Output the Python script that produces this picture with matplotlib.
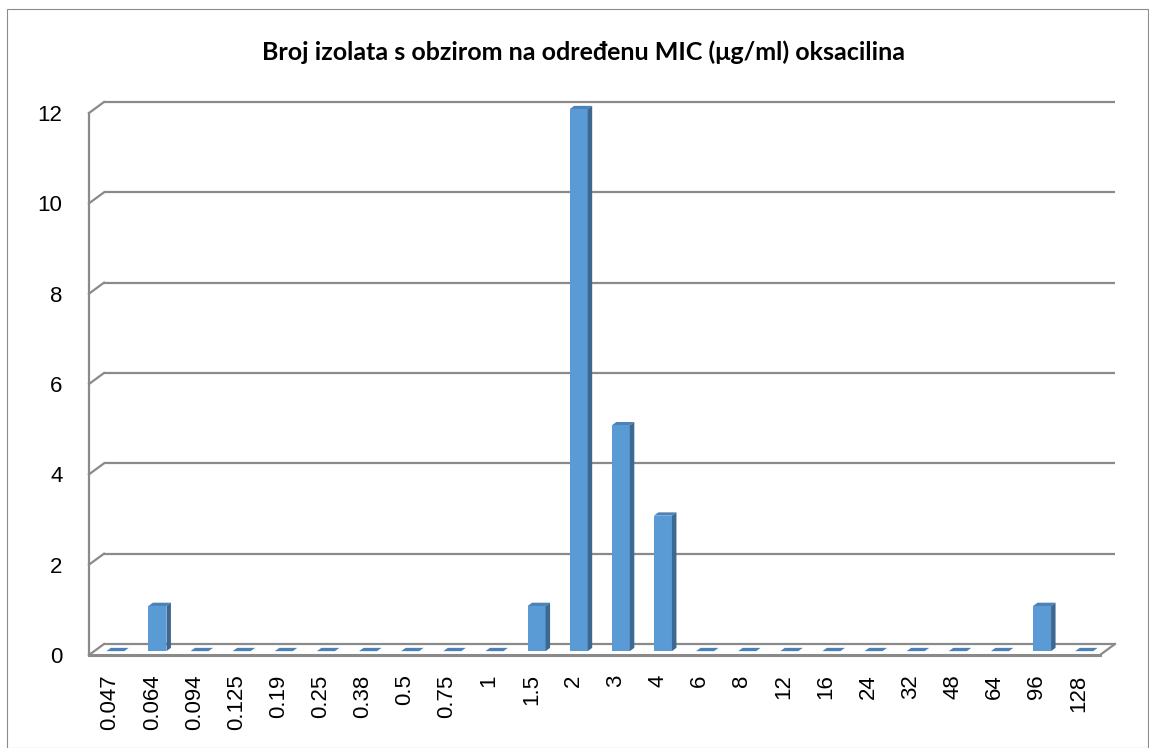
import matplotlib
matplotlib.use('Agg')
from matplotlib import pyplot as plt
from matplotlib.patches import Polygon, Rectangle

# podaci
mic = ['0.047', '0.064', '0.094', '0.125', '0.19', '0.25', '0.38', '0.5', '0.75', '1',
       '1.5', '2', '3', '4', '6', '8', '12', '16', '24', '32', '48', '64', '96', '128']
broj = [0, 1, 0, 0, 0, 0, 0, 0, 0, 0, 1, 12, 5, 3, 0, 0, 0, 0, 0, 0, 0, 0, 1, 0]
y_ticks = [0, 2, 4, 6, 8, 10, 12]
title = 'Broj izolata s obzirom na određenu MIC (μg/ml) oksacilina'

W, H = 1149, 748
fig = plt.figure(figsize=(W / 100, H / 100), dpi=100)
plt.rcParams['font.family'] = ['Liberation Sans', 'DejaVu Sans']

# okvir grafikona
fig.patches.append(Rectangle((7 / W, 0.5 / H), 1141 / W, 738.5 / H, transform=fig.transFigure,
                             fill=False, edgecolor='#8c8c8c', linewidth=0.8))

# prednja ravnina osi u pikselima
x0, x1, yb, yt = 89, 1100, 655, 113
ax = fig.add_axes([x0 / W, (H - yb) / H, (x1 - x0) / W, (yb - yt) / H])
n = len(mic)
ax.set_xlim(-0.5, n - 0.5)
ax.set_ylim(0, 12)
for s in ax.spines.values():
    s.set_visible(False)

px_x = (x1 - x0) / n
px_y = (yb - yt) / 12.0
dx = 15 / px_x   # dubina 3D
dy = 11 / px_y
grid_c = '#8a8a8a'
lw = 1.6

# zidovi i mreža
for v in y_ticks:
    ax.plot([-0.5 + dx, n - 0.5 + dx], [v + dy, v + dy], color=grid_c, lw=lw, clip_on=False,
            solid_capstyle='butt', zorder=1)
    ax.plot([-0.5, -0.5 + dx], [v, v + dy], color=grid_c, lw=lw, clip_on=False, zorder=1)
# pod
ax.plot([-0.5, n - 0.5], [0, 0], color=grid_c, lw=lw + 0.6, clip_on=False, zorder=1)
ax.plot([n - 0.5, n - 0.5 + dx], [0, dy], color=grid_c, lw=lw, clip_on=False, zorder=1)
ax.plot([-0.5, -0.5], [0, 12], color=grid_c, lw=lw, clip_on=False, zorder=1)

# stupci
bw = 18 / px_x
f1, f2 = 0.35, 0.65
front_c = '#5b9bd5'
side_c = '#3d6891'
top_c = '#4c82b8'
for i, v in enumerate(broj):
    ox, oy = f1 * dx, f1 * dy
    bx, by = f2 * dx, f2 * dy
    l = i - bw / 2 + ox
    r = i + bw / 2 + ox
    b = oy
    t = v + oy
    top = Polygon([(l, t), (r, t), (r + bx - ox, t + by - oy), (l + bx - ox, t + by - oy)],
                  closed=True, facecolor=top_c, edgecolor='none', clip_on=False, zorder=3)
    ax.add_patch(top)
    if v > 0:
        ax.add_patch(Rectangle((l, b), r - l, t - b, facecolor=front_c, edgecolor='none',
                               clip_on=False, zorder=3))
        side = Polygon([(r, b), (r + bx - ox, b + by - oy), (r + bx - ox, t + by - oy), (r, t)],
                       closed=True, facecolor=side_c, edgecolor='none', clip_on=False, zorder=3)
        ax.add_patch(side)

ax.set_xticks(range(n))
ax.set_xticklabels(mic, rotation=90, fontsize=16, va='top')
ax.set_yticks(y_ticks)
ax.set_yticklabels([str(v) for v in y_ticks], fontsize=16)
ax.tick_params(axis='x', length=0, pad=14)
ax.tick_params(axis='y', length=0, pad=19)

fig.text(583 / W, 1 - 52 / H, title, ha='center', va='center', fontsize=18, fontweight='bold',
         family=['Lato', 'DejaVu Sans'])

fig.savefig('out.png', dpi=100)
